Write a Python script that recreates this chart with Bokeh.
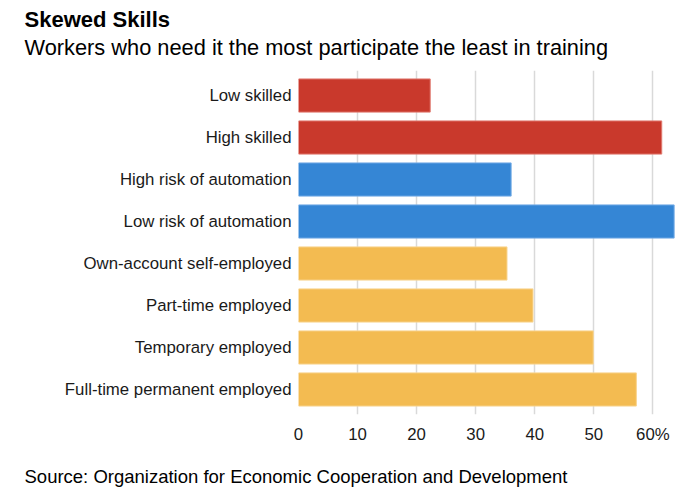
from bokeh.plotting import figure
from bokeh.models import FactorRange, Range1d, FixedTicker, Title, ColumnDataSource
from bokeh.embed import file_html
from bokeh.resources import INLINE

categories = ["Low skilled", "High skilled", "High risk of automation",
              "Low risk of automation", "Own-account self-employed",
              "Part-time employed", "Temporary employed",
              "Full-time permanent employed"]
values = [22.3, 61.5, 36.0, 63.6, 35.3, 39.7, 49.9, 57.2]
groups = ["skill", "skill", "risk", "risk", "contract", "contract", "contract", "contract"]
tick_values = [0, 10, 20, 30, 40, 50, 60]

title_text = "Skewed Skills"
subtitle_text = "Workers who need it the most participate the least in training"
source_text = "Source: Organization for Economic Cooperation and Development"

fill_map = {"skill": "#c9392c", "risk": "#3586d5", "contract": "#f3bb51"}
line_map = {"skill": "#e07a70", "risk": "#74abe6", "contract": "#f8d48f"}

src = ColumnDataSource(dict(
    cat=categories, val=values,
    fill=[fill_map[g] for g in groups],
    line=[line_map[g] for g in groups],
))

FONT = "Liberation Sans"
FRAME_LEFT = 298
TEXT_LEFT = 24

W, H = 700, 504
p = figure(width=W, height=H, output_backend="svg", toolbar_location=None,
           y_range=FactorRange(factors=list(reversed(categories)), range_padding=0.024),
           x_range=Range1d(0, 64),
           min_border_left=FRAME_LEFT, min_border_right=24,
           min_border_top=70, min_border_bottom=90)

p.hbar(y="cat", right="val", left=0, height=0.79, source=src,
       fill_color="fill", line_color="line", line_width=1)

p.outline_line_color = None
p.ygrid.grid_line_color = None
p.xgrid.grid_line_color = "#d9d9d9"
p.xgrid.grid_line_width = 1.5
p.xaxis.ticker = FixedTicker(ticks=tick_values)
p.xaxis.major_label_overrides = {60: "60%"}
for ax in (p.xaxis, p.yaxis):
    ax.axis_line_color = None
    ax.major_tick_line_color = None
    ax.minor_tick_line_color = None
    ax.major_tick_out = 0
    ax.major_tick_in = 0
    ax.minor_tick_out = 0
    ax.minor_tick_in = 0
    ax.major_label_text_font = FONT
    ax.major_label_text_font_size = "16.8px"
    ax.major_label_text_color = "#1a1a1a"
p.xaxis.major_label_standoff = 10
p.yaxis.major_label_standoff = 7

def make_title(txt, size, style, standoff):
    return Title(text=txt, align="left", offset=TEXT_LEFT - FRAME_LEFT,
                 text_font=FONT, text_font_size=size, text_font_style=style,
                 text_color="#000000", standoff=standoff)

p.add_layout(make_title(subtitle_text, "21.8px", "normal", 21), "above")
p.add_layout(make_title(title_text, "22px", "bold", -18), "above")
p.add_layout(make_title(source_text, "18.5px", "normal", 35), "below")

open("out.html", "w").write(file_html(p, INLINE))
